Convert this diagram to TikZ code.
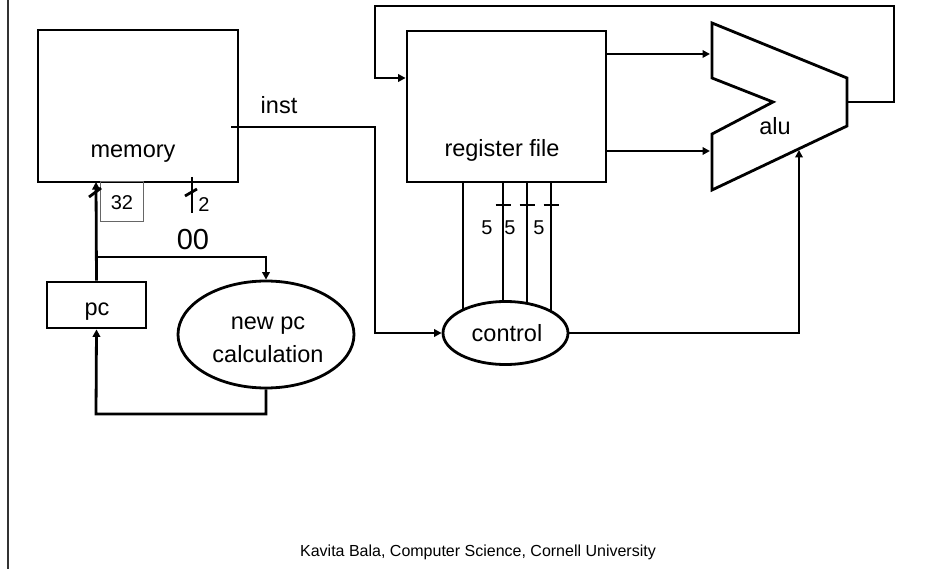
\documentclass[tikz,border=0pt]{standalone}
\usepackage{fontspec}
\setmainfont{Liberation Sans}
\usetikzlibrary{shapes.geometric,arrows.meta,backgrounds}
\begin{document}
\begin{tikzpicture}[x=1pt,y=-1pt,
  wire/.style={line width=2.8pt},
  arr/.style={wire,-{Triangle[length=7.5pt,width=7.5pt]}},
  blk/.style={draw,line width=2.8pt,inner sep=0pt},
  lbl/.style={font=\fontsize{23.5}{28}\selectfont,inner sep=0pt,anchor=base},
  small/.style={font=\fontsize{20}{24}\selectfont,inner sep=0pt,anchor=base},
  foot/.style={font=\fontsize{16}{19}\selectfont,inner sep=0pt,anchor=base}]
\useasboundingbox (0,0) rectangle (952,569);
% left border
\draw[line width=2pt,black!80] (8,0) -- (8,569);
% blocks
\node[blk,minimum width=200pt,minimum height=152pt] (mem) at (138,106) {};
\node[lbl] (memlbl) at (133,158) {memory};
\node[blk,minimum width=199pt,minimum height=151pt] (regf) at (506.5,106.5) {};
\node[lbl] (reglbl) at (502,157) {register file};
\node[blk,minimum width=99pt,minimum height=46pt] (pc) at (96.5,305) {};
\node[lbl] (pclbl) at (97,315) {pc};
\node[blk,ellipse,minimum width=176pt,minimum height=107pt] (newpc) at (266,334.5) {};
\node[lbl] (newpclbla) at (268,329) {new pc};
\node[lbl] (newpclblb) at (268,362) {calculation};
\node[blk,ellipse,fill=white,minimum width=125pt,minimum height=63pt] (ctrl) at (505.5,333) {};
\node[lbl] (ctrllbl) at (507,341) {control};
\node[draw=black!60,line width=1pt,minimum width=43pt,minimum height=40pt,inner sep=0pt] (box32) at (121.5,202) {};
\node[small] (lbl32) at (122,210) {32};
% alu
\draw[wire] (712,23) -- (847,78) -- (847,126) -- (712,190) -- (712,134) -- (773,102) -- (712,78) -- cycle;
\node[lbl] (alulbl) at (775,135) {alu};
\coordinate (aluout) at (847,102);
\coordinate (aluina) at (710,54);
\coordinate (aluinb) at (710,151);
\coordinate (aluctl) at (799,150);
% register file -> alu
\draw[arr] (regf.east |- aluina) -- (aluina);
\draw[arr] (regf.east |- aluinb) -- (aluinb);
% feedback alu -> register file
\coordinate (fbA) at (894,102);
\coordinate (fbB) at (894,6);
\coordinate (fbC) at (375,6);
\coordinate (fbD) at (375,78);
\draw[arr] (aluout) -- (fbA) -- (fbB) -- (fbC) -- (fbD) -- (regf.west |- fbD);
% inst
\coordinate (instout) at (231,127);
\coordinate (instA) at (375,127);
\draw[arr] (instout) -- (instA) -- (instA |- ctrl.west) -- (ctrl.west);
\node[lbl] (instlbl) at (279,114) {inst};
% control -> alu
\coordinate (ctlA) at (799,333);
\draw[arr] (ctrl.east) -- (ctlA) -- (aluctl);
% register file <-> control lines
\begin{scope}[on background layer]
\foreach \xx/\nm in {463/a,503/b,527/c,551/d}{
  \coordinate (rt\nm) at (\xx,182);
  \draw[wire] (rt\nm) -- (rt\nm |- ctrl.center);
}
\end{scope}
\foreach \xx in {503,527,551}{
  \draw[wire] (\xx-7.5,205) -- (\xx+7.5,205);
}
\node[small] (five1) at (487,235) {5};
\node[small] (five2) at (510,235) {5};
\node[small] (five3) at (539,235) {5};
% pc -> memory
\coordinate (pcA) at (96,182);
\draw[arr] (pc.north) -- (pcA);
\draw[wire] (89,197) -- (101,188);
% branch to new pc
\coordinate (brA) at (96,257);
\coordinate (brB) at (266,257);
\draw[arr] (brA) -- (brB) -- (newpc.north);
% 2-bit bus
\coordinate (twoA) at (192,177);
\coordinate (twoB) at (192,213);
\draw[wire] (twoA) -- (twoB);
\draw[wire] (185,196) -- (197,189);
\node[small] (lbl2) at (204,212) {2};
\node[lbl,font=\fontsize{29}{34}\selectfont] (lbl00) at (193,250) {00};
% new pc -> pc
\coordinate (lpA) at (266,414);
\coordinate (lpB) at (96,414);
\draw[arr] (newpc.south) -- (lpA) -- (lpB) -- (pc.south);
% footer
\node[foot] (footer) at (478,556) {Kavita Bala, Computer Science, Cornell University};
\end{tikzpicture}
\end{document}
